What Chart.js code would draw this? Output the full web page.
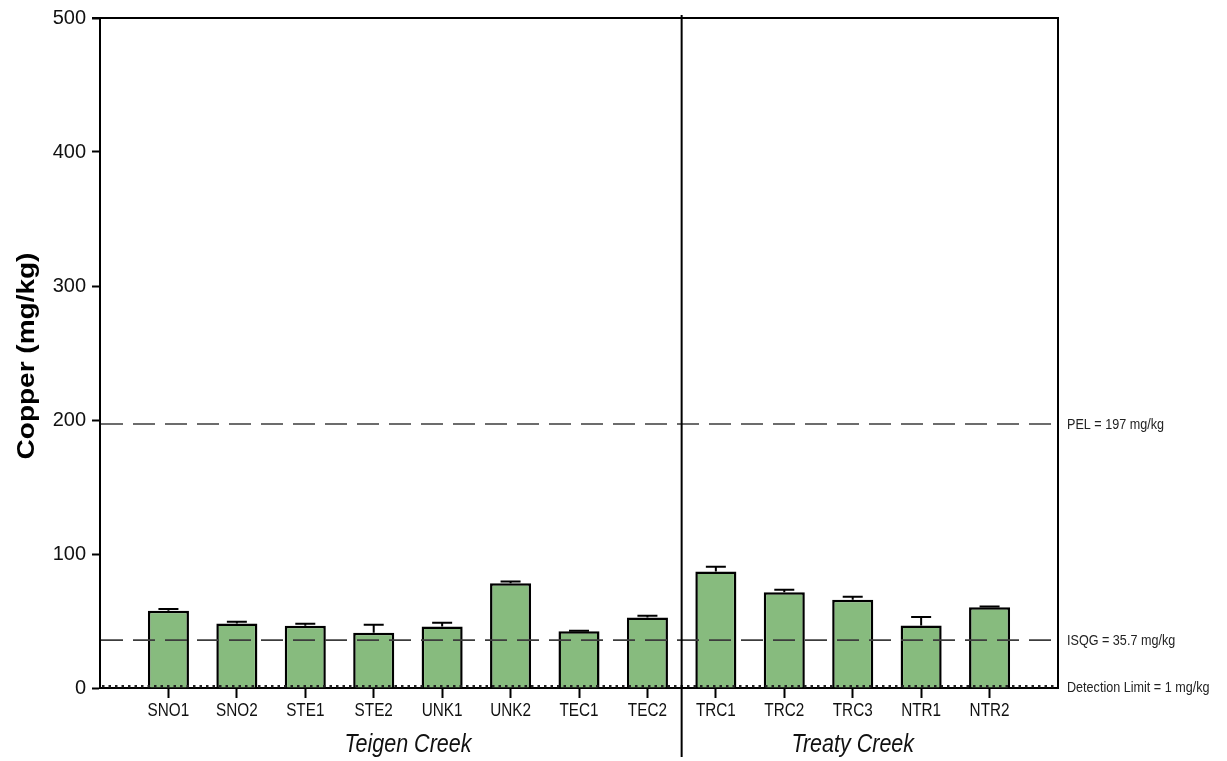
<!DOCTYPE html>
<html>
<head>
<meta charset="utf-8">
<script src="https://cdn.jsdelivr.net/npm/chart.js@4.4.1/dist/chart.umd.min.js"></script>
<style>
  html, body { margin: 0; padding: 0; background: #ffffff; }
  #wrap { position: relative; width: 1227px; height: 761px; }
</style>
</head>
<body>
<div id="wrap"><canvas id="c" width="1227" height="761"></canvas></div>
<script>
// ---- Data ----
const categories = ['SNO1','SNO2','STE1','STE2','UNK1','UNK2','TEC1','TEC2','TRC1','TRC2','TRC3','NTR1','NTR2'];
const means      = [57.7, 48.2, 46.4, 41.2, 45.9, 78.1, 42.4, 52.7, 86.9, 71.4, 65.9, 46.7, 60.2];
const errors     = [1.2, 1.2, 1.5, 6.0, 2.8, 1.3, 0.3, 1.2, 3.5, 2.0, 2.2, 6.2, 0.7];
const groupNames = ['Teigen Creek', 'Treaty Creek'];
const groupSizes = [8, 5];
const yTicks     = [0, 100, 200, 300, 400, 500];
const refValues  = [197, 35.7, 1];
const refLabels  = ['PEL = 197 mg/kg', 'ISQG = 35.7 mg/kg', 'Detection Limit = 1 mg/kg'];
const yTitle     = 'Copper (mg/kg)';

// padded labels so categories sit one slot in from each edge
const labels = [''].concat(categories, ['']);
const values = [null].concat(means, [null]);

const FONT = "'Liberation Sans', Arial, sans-serif";

function narrowText(ctx, text, x, y, sx) {
  ctx.save();
  ctx.translate(x, y);
  ctx.scale(sx, 1);
  ctx.fillText(text, 0, 0);
  ctx.restore();
}

const decor = {
  id: 'decor',
  afterDatasetsDraw(chart) {
    const ctx = chart.ctx;
    const y = chart.scales.y;
    const area = chart.chartArea;
    ctx.save();
    // reference lines
    refValues.forEach((v, i) => {
      const py = y.getPixelForValue(v);
      ctx.beginPath();
      if (i < 2) {
        ctx.setLineDash([22, 10]);
        ctx.strokeStyle = '#3c3c3c';
        ctx.lineWidth = 1.7;
        ctx.moveTo(area.left + 1, py);
        ctx.lineTo(area.right, py);
      } else {
        ctx.setLineDash([2.5, 4]);
        ctx.strokeStyle = '#222';
        ctx.lineWidth = 2.5;
        ctx.moveTo(area.left + 2, py - 0.5);
        ctx.lineTo(area.right, py - 0.5);
      }
      ctx.stroke();
    });
    ctx.setLineDash([]);
    // error bars
    const meta = chart.getDatasetMeta(0);
    ctx.strokeStyle = '#000';
    ctx.lineWidth = 2;
    means.forEach((m, i) => {
      const el = meta.data[i + 1];
      if (!el) return;
      const px = el.x;
      const pTop = y.getPixelForValue(m);
      const pCap = y.getPixelForValue(m + errors[i]);
      ctx.beginPath();
      ctx.moveTo(px, pTop);
      ctx.lineTo(px, pCap);
      ctx.moveTo(px - 10, pCap);
      ctx.lineTo(px + 10, pCap);
      ctx.stroke();
    });
    ctx.restore();
  },
  afterDraw(chart) {
    const ctx = chart.ctx;
    const x = chart.scales.x, y = chart.scales.y;
    const area = chart.chartArea;
    ctx.save();
    ctx.strokeStyle = '#000';
    ctx.lineWidth = 2;
    // top and right border
    ctx.beginPath();
    ctx.moveTo(area.left - 8, area.top);
    ctx.lineTo(area.right + 1, area.top);
    ctx.moveTo(area.right, area.top);
    ctx.lineTo(area.right, area.bottom);
    ctx.stroke();
    // group divider
    let start = 1;
    const centers = [];
    groupSizes.forEach((n, g) => {
      const a = x.getPixelForValue(start);
      const b = x.getPixelForValue(start + n - 1);
      centers.push((a + b) / 2);
      if (g < groupSizes.length - 1) {
        const d = (x.getPixelForValue(start + n - 1) + x.getPixelForValue(start + n)) / 2;
        ctx.beginPath();
        ctx.moveTo(d, area.top - 3);
        ctx.lineTo(d, 757);
        ctx.stroke();
      }
      start += n;
    });
    // category labels
    ctx.fillStyle = '#111';
    ctx.textAlign = 'center';
    ctx.textBaseline = 'alphabetic';
    ctx.font = "18px " + FONT;
    categories.forEach((c, i) => {
      narrowText(ctx, c, x.getPixelForValue(i + 1), 716, 0.85);
    });
    // group labels
    ctx.font = "italic 25px " + FONT;
    groupNames.forEach((name, g) => {
      narrowText(ctx, name, centers[g], 752, 0.86);
    });
    // reference labels
    ctx.font = "15px " + FONT;
    ctx.textAlign = 'left';
    ctx.fillStyle = '#222';
    refValues.forEach((v, i) => {
      narrowText(ctx, refLabels[i], area.right + 9, y.getPixelForValue(v) + 5, 0.84);
    });
    // y title
    ctx.translate(27, 356);
    ctx.rotate(-Math.PI / 2);
    ctx.scale(1, 0.88);
    ctx.font = "bold 28px " + FONT;
    ctx.textAlign = 'center';
    ctx.textBaseline = 'middle';
    ctx.fillStyle = '#000';
    ctx.fillText(yTitle, 0, 0);
    ctx.restore();
  }
};

new Chart(document.getElementById('c'), {
  type: 'bar',
  data: {
    labels: labels,
    datasets: [{
      data: values,
      backgroundColor: '#87bb7e',
      borderColor: '#000',
      borderWidth: 2.5,
      barPercentage: 0.6,
      categoryPercentage: 1.0
    }]
  },
  options: {
    responsive: false,
    animation: false,
    devicePixelRatio: 1,
    layout: { padding: { left: 0, right: 169, top: 15, bottom: 0 } },
    plugins: { legend: { display: false }, tooltip: { enabled: false }, title: { display: false } },
    scales: {
      x: {
        type: 'category',
        offset: false,
        border: { display: true, color: '#000', width: 2 },
        grid: {
          display: true,
          offset: false,
          drawOnChartArea: false,
          drawTicks: true,
          tickLength: 10,
          tickWidth: 2,
          tickColor: (c) => (c.tick && c.tick.label === '') ? 'rgba(0,0,0,0)' : '#000'
        },
        ticks: {
          display: false,
          autoSkip: false,
          maxRotation: 0
        },
        afterFit: (s) => { s.height = 73; }
      },
      y: {
        min: 0,
        max: 500,
        afterBuildTicks: (s) => { s.ticks = yTicks.map(v => ({ value: v })); },
        border: { display: true, color: '#000', width: 2 },
        grid: {
          display: true,
          drawOnChartArea: false,
          drawTicks: true,
          tickLength: 8,
          tickWidth: 2,
          color: '#000'
        },
        ticks: {
          padding: 6,
          color: '#111',
          font: { family: FONT, size: 20 }
        },
        afterFit: (s) => { s.width = 100; }
      }
    }
  },
  plugins: [decor]
});
</script>
</body>
</html>
